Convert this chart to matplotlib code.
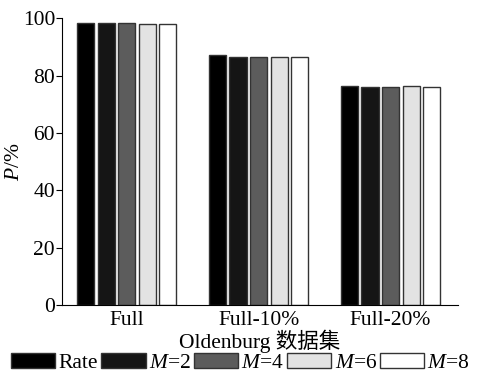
import numpy as np
import matplotlib.pyplot as plt
from matplotlib.patches import Patch

plt.rcParams['font.family'] = ['Liberation Serif', 'Noto Sans CJK SC', 'DejaVu Sans']
plt.rcParams['mathtext.fontset'] = 'custom'
plt.rcParams['mathtext.it'] = 'Liberation Serif:italic'
plt.rcParams['mathtext.rm'] = 'Liberation Serif'

groups = ['Full', 'Full-10%', 'Full-20%']
series = ['Rate', '$M$=2', '$M$=4', '$M$=6', '$M$=8']
rate = [98.4, 87.1, 76.4]
m2 = [98.4, 86.6, 76.1]
m4 = [98.4, 86.6, 76.1]
m6 = [97.9, 86.6, 76.4]
m8 = [97.9, 86.6, 76.1]
colors = ['#000000', '#151515', '#5c5c5c', '#e3e3e3', '#ffffff']

fig = plt.figure(figsize=(4.81, 3.77), dpi=100)
ax = fig.add_axes([0.129, 0.191, 0.823, 0.760])

x = np.arange(len(groups))
w = 0.13
step = 0.156
for i, vals in enumerate([rate, m2, m4, m6, m8]):
    ax.bar(x + (i - 2) * step, vals, w, color=colors[i],
           edgecolor='#333333', linewidth=1.0, label=series[i])

ax.set_xlim(-0.49, 2.51)
ax.set_ylim(0, 100)
ax.set_yticks([0, 20, 40, 60, 80, 100])
ax.set_xticks(x)
ax.set_xticklabels(groups)
ax.spines['top'].set_visible(False)
ax.spines['right'].set_visible(False)
ax.tick_params(axis='y', direction='out', length=4, labelsize=15.5, pad=1)
ax.tick_params(axis='x', length=0, labelsize=15.5, pad=4)
ax.set_xlabel('Oldenburg 数据集', fontsize=15.5)
ax.xaxis.set_label_coords(0.5, -0.086)
ax.set_ylabel('$P$/%', fontsize=15.5)
ax.yaxis.set_label_coords(-0.095, 0.5)

handles = [Patch(facecolor=c, edgecolor='#333333', linewidth=1.0) for c in colors]
fig.legend(handles, series, loc='lower center', bbox_to_anchor=(0.5, -0.018),
           ncol=5, frameon=False, fontsize=15.5, handlelength=2.05,
           handleheight=0.75, handletextpad=0.15, columnspacing=0.15,
           borderaxespad=0.1)

fig.savefig('out.png', dpi=100)
